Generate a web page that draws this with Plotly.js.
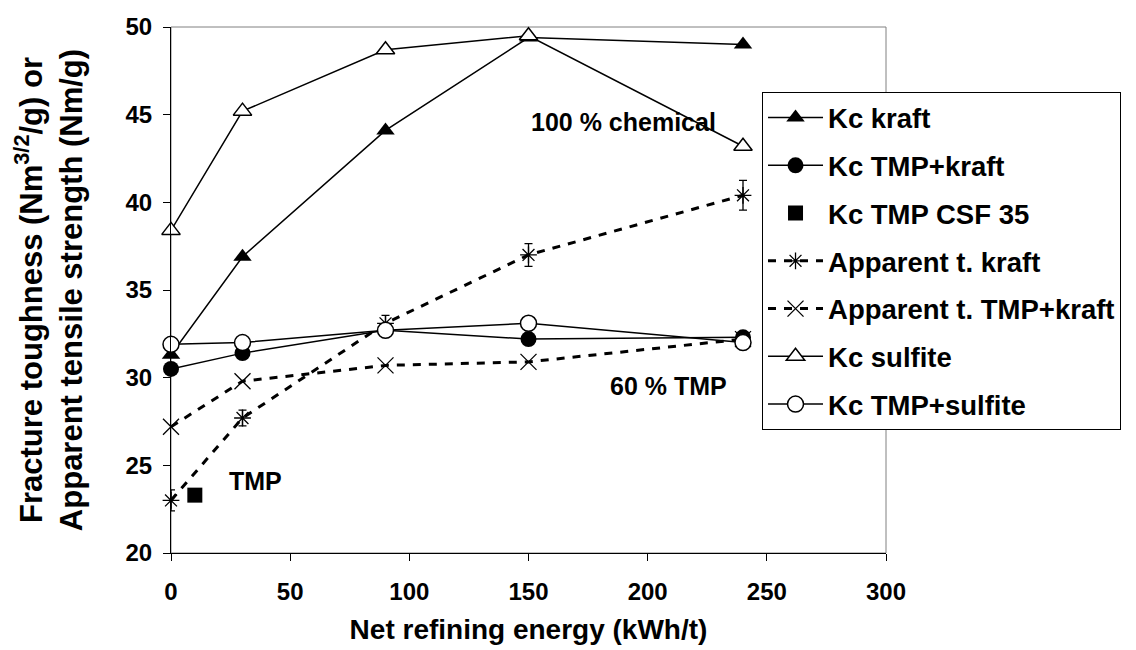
<!DOCTYPE html>
<html>
<head>
<meta charset="utf-8">
<script src="https://cdn.plot.ly/plotly-3.0.1.min.js"></script>
<style>html,body{margin:0;padding:0;background:#fff;}#chart{width:1136px;height:650px;}</style>
</head>
<body>
<div id="chart"></div>
<script>
var energy = [0, 30, 90, 150, 240];
var kcKraft = [31.3, 36.9, 44.1, 49.4, 49.0];
var kcTmpKraft = [30.5, 31.4, 32.7, 32.2, 32.3];
var tmpCsfX = [10];
var tmpCsfY = [23.3];
var appKraft = [23.0, 27.7, 33.1, 37.0, 40.4];
var appKraftErr = [0.6, 0.45, 0.45, 0.65, 0.85];
var appTmpKraft = [27.2, 29.8, 30.7, 30.9, 32.2];
var kcSulfite = [38.4, 45.2, 48.7, 49.5, 43.2];
var kcTmpSulfite = [31.9, 32.0, 32.7, 33.1, 32.0];
var xTicks = [0, 50, 100, 150, 200, 250, 300];
var yTicks = [20, 25, 30, 35, 40, 45, 50];

var FONT = 'Liberation Sans, Arial, sans-serif';
var solid = {color: '#000', width: 1.5};
var dashed = {color: '#000', width: 3, dash: '8px,8px'};

var traces = [
  {name: 'Kc kraft', x: energy, y: kcKraft, mode: 'lines+markers', line: solid, cliponaxis: false,
   marker: {symbol: 'triangle-up', size: 16, color: '#000'}, legendgroup: 'a'},
  {name: 'Kc TMP+kraft', x: energy, y: kcTmpKraft, mode: 'lines+markers', line: solid, cliponaxis: false,
   marker: {symbol: 'circle', size: 16, color: '#000'}, legendgroup: 'b'},
  {name: 'Kc TMP CSF 35', x: tmpCsfX, y: tmpCsfY, mode: 'markers', cliponaxis: false,
   marker: {symbol: 'square', size: 15, color: '#000'}, legendgroup: 'c'},
  {name: 'Apparent t. kraft', x: energy, y: appKraft, mode: 'lines+markers', line: dashed, cliponaxis: false,
   marker: {symbol: 'asterisk-open', size: 14, color: '#000', line: {color: '#000', width: 1.3}},
   error_y: {type: 'data', array: appKraftErr, visible: true, color: '#000', thickness: 1.3, width: 4},
   legendgroup: 'd'},
  {name: 'Apparent t. TMP+kraft', x: energy, y: appTmpKraft, mode: 'lines+markers', line: dashed, cliponaxis: false,
   marker: {symbol: 'x-thin-open', size: 16, color: '#000', line: {color: '#000', width: 1.3}}, legendgroup: 'e'},
  {name: 'Kc sulfite', x: energy, y: kcSulfite, mode: 'lines+markers', line: solid, cliponaxis: false,
   marker: {symbol: 'triangle-up', size: 16, color: '#fff', line: {color: '#000', width: 1.5}}, legendgroup: 'f'},
  {name: 'Kc TMP+sulfite', x: energy, y: kcTmpSulfite, mode: 'lines+markers', line: solid, cliponaxis: false,
   marker: {symbol: 'circle', size: 16, color: '#fff', line: {color: '#000', width: 1.5}}, legendgroup: 'g'}
];

var layout = {
  width: 1136, height: 650,
  margin: {l: 171, r: 250, t: 27, b: 97},
  paper_bgcolor: '#fff', plot_bgcolor: '#fff',
  font: {family: FONT, color: '#000', size: 24, weight: 'bold'},
  showlegend: true,
  legend: {x: 0.8266, y: 0.876, xanchor: 'left', yanchor: 'top', bgcolor: '#fff',
    bordercolor: '#000', borderwidth: 1, font: {family: FONT, size: 27.5, weight: 'bold', color: '#000'},
    traceorder: 'grouped', tracegroupgap: 9, itemwidth: 55},
  xaxis: {range: [0, 300], tickvals: xTicks, ticktext: xTicks.map(String), showgrid: false, zeroline: false,
    showline: true, linecolor: '#000', linewidth: 1, ticks: 'outside', ticklen: 7, tickcolor: '#000',
    ticklabelstandoff: 10,
    tickfont: {family: FONT, size: 24, weight: 'bold'},
    title: {text: 'Net refining energy (kWh/t)', font: {family: FONT, size: 28, weight: 'bold'}, standoff: 15}},
  yaxis: {range: [20, 50], tickvals: yTicks, ticktext: yTicks.map(String), showgrid: false, zeroline: false,
    showline: true, linecolor: '#000', linewidth: 1, ticks: 'outside', ticklen: 7, tickcolor: '#000',
    ticklabelstandoff: 6,
    tickfont: {family: FONT, size: 24, weight: 'bold'},
    title: {text: 'Fracture toughness (Nm<sup>3/2</sup>/g) or<br>Apparent tensile strength (Nm/g)',
      font: {family: FONT, size: 31, weight: 'bold'}, standoff: 33}},
  shapes: [{type: 'rect', xref: 'paper', yref: 'paper', x0: 0, x1: 1, y0: 0, y1: 1,
    line: {color: '#808080', width: 1}, layer: 'below'}],
  annotations: [
    {text: '100 % chemical', x: 150, y: 44.6, xref: 'x', yref: 'y', xanchor: 'left', yanchor: 'middle',
     showarrow: false, font: {family: FONT, size: 25, weight: 'bold'}},
    {text: '60 % TMP', x: 183.5, y: 29.5, xref: 'x', yref: 'y', xanchor: 'left', yanchor: 'middle',
     showarrow: false, font: {family: FONT, size: 25, weight: 'bold'}},
    {text: 'TMP', x: 23.3, y: 24.1, xref: 'x', yref: 'y', xanchor: 'left', yanchor: 'middle',
     showarrow: false, font: {family: FONT, size: 25, weight: 'bold'}}
  ]
};

Plotly.newPlot('chart', traces, layout, {displayModeBar: false, staticPlot: true});
</script>
</body>
</html>
